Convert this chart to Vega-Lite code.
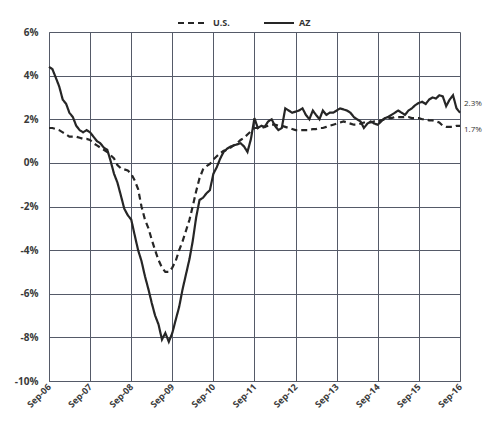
{
  "$schema": "https://vega.github.io/schema/vega-lite/v6.json",
  "width": 411,
  "height": 349,
  "autosize": "none",
  "padding": {"left": 49, "top": 32, "right": 30, "bottom": 56},
  "background": "#ffffff",
  "config": {
    "view": {"stroke": null},
    "font": "Open Sans",
    "axis": {"labelFont": "Open Sans", "labelFontWeight": "bold", "labelColor": "#3a3a3a", "gridColor": "#555a68", "gridOpacity": 1, "gridWidth": 1, "domainColor": "#555a68", "ticks": false}
  },
  "data": {"values": [
    {"date":"2006-09-01","US":1.6,"AZ":4.4},{"date":"2006-10-01","US":1.6,"AZ":4.3},{"date":"2006-11-01","US":1.55,"AZ":3.9},{"date":"2006-12-01","US":1.5,"AZ":3.5},
    {"date":"2007-01-01","US":1.4,"AZ":2.9},{"date":"2007-02-01","US":1.3,"AZ":2.7},{"date":"2007-03-01","US":1.2,"AZ":2.3},{"date":"2007-04-01","US":1.2,"AZ":2.1},
    {"date":"2007-05-01","US":1.2,"AZ":1.7},{"date":"2007-06-01","US":1.15,"AZ":1.5},{"date":"2007-07-01","US":1.1,"AZ":1.4},{"date":"2007-08-01","US":1.1,"AZ":1.5},
    {"date":"2007-09-01","US":1.05,"AZ":1.4},{"date":"2007-10-01","US":0.9,"AZ":1.2},{"date":"2007-11-01","US":0.8,"AZ":1.0},{"date":"2007-12-01","US":0.7,"AZ":0.9},
    {"date":"2008-01-01","US":0.6,"AZ":0.7},{"date":"2008-02-01","US":0.5,"AZ":0.6},{"date":"2008-03-01","US":0.35,"AZ":0.1},{"date":"2008-04-01","US":0.2,"AZ":-0.5},
    {"date":"2008-05-01","US":-0.1,"AZ":-0.9},{"date":"2008-06-01","US":-0.25,"AZ":-1.5},{"date":"2008-07-01","US":-0.3,"AZ":-2.1},{"date":"2008-08-01","US":-0.35,"AZ":-2.4},
    {"date":"2008-09-01","US":-0.5,"AZ":-2.6},{"date":"2008-10-01","US":-0.8,"AZ":-3.3},{"date":"2008-11-01","US":-1.2,"AZ":-4.0},{"date":"2008-12-01","US":-2.0,"AZ":-4.5},
    {"date":"2009-01-01","US":-2.6,"AZ":-5.2},{"date":"2009-02-01","US":-3.0,"AZ":-5.8},{"date":"2009-03-01","US":-3.5,"AZ":-6.4},{"date":"2009-04-01","US":-4.0,"AZ":-7.0},
    {"date":"2009-05-01","US":-4.45,"AZ":-7.4},{"date":"2009-06-01","US":-4.8,"AZ":-8.1},{"date":"2009-07-01","US":-5.0,"AZ":-7.8},{"date":"2009-08-01","US":-5.0,"AZ":-8.2},
    {"date":"2009-09-01","US":-4.8,"AZ":-7.8},{"date":"2009-10-01","US":-4.5,"AZ":-7.2},{"date":"2009-11-01","US":-4.0,"AZ":-6.6},{"date":"2009-12-01","US":-3.6,"AZ":-5.8},
    {"date":"2010-01-01","US":-3.1,"AZ":-5.1},{"date":"2010-02-01","US":-2.6,"AZ":-4.4},{"date":"2010-03-01","US":-2.0,"AZ":-3.6},{"date":"2010-04-01","US":-1.3,"AZ":-2.5},
    {"date":"2010-05-01","US":-0.7,"AZ":-1.7},{"date":"2010-06-01","US":-0.3,"AZ":-1.6},{"date":"2010-07-01","US":-0.15,"AZ":-1.4},{"date":"2010-08-01","US":-0.05,"AZ":-1.25},
    {"date":"2010-09-01","US":0.15,"AZ":-0.5},{"date":"2010-10-01","US":0.3,"AZ":-0.2},{"date":"2010-11-01","US":0.45,"AZ":0.2},{"date":"2010-12-01","US":0.55,"AZ":0.5},
    {"date":"2011-01-01","US":0.6,"AZ":0.65},{"date":"2011-02-01","US":0.7,"AZ":0.75},{"date":"2011-03-01","US":0.8,"AZ":0.8},{"date":"2011-04-01","US":0.9,"AZ":0.85},
    {"date":"2011-05-01","US":1.05,"AZ":0.9},{"date":"2011-06-01","US":1.15,"AZ":0.75},{"date":"2011-07-01","US":1.3,"AZ":0.5},{"date":"2011-08-01","US":1.45,"AZ":1.1},
    {"date":"2011-09-01","US":1.6,"AZ":2.05},{"date":"2011-10-01","US":1.6,"AZ":1.6},{"date":"2011-11-01","US":1.6,"AZ":1.7},{"date":"2011-12-01","US":1.65,"AZ":1.65},
    {"date":"2012-01-01","US":1.7,"AZ":1.9},{"date":"2012-02-01","US":1.75,"AZ":2.0},{"date":"2012-03-01","US":1.75,"AZ":1.7},{"date":"2012-04-01","US":1.7,"AZ":1.5},
    {"date":"2012-05-01","US":1.7,"AZ":1.6},{"date":"2012-06-01","US":1.65,"AZ":2.5},{"date":"2012-07-01","US":1.6,"AZ":2.4},{"date":"2012-08-01","US":1.55,"AZ":2.3},
    {"date":"2012-09-01","US":1.5,"AZ":2.35},{"date":"2012-10-01","US":1.5,"AZ":2.4},{"date":"2012-11-01","US":1.5,"AZ":2.5},{"date":"2012-12-01","US":1.5,"AZ":2.2},
    {"date":"2013-01-01","US":1.5,"AZ":2.0},{"date":"2013-02-01","US":1.55,"AZ":2.4},{"date":"2013-03-01","US":1.55,"AZ":2.2},{"date":"2013-04-01","US":1.6,"AZ":2.0},
    {"date":"2013-05-01","US":1.6,"AZ":2.4},{"date":"2013-06-01","US":1.65,"AZ":2.2},{"date":"2013-07-01","US":1.7,"AZ":2.3},{"date":"2013-08-01","US":1.75,"AZ":2.3},
    {"date":"2013-09-01","US":1.8,"AZ":2.4},{"date":"2013-10-01","US":1.85,"AZ":2.5},{"date":"2013-11-01","US":1.9,"AZ":2.45},{"date":"2013-12-01","US":1.85,"AZ":2.4},
    {"date":"2014-01-01","US":1.8,"AZ":2.3},{"date":"2014-02-01","US":1.75,"AZ":2.1},{"date":"2014-03-01","US":1.75,"AZ":2.0},{"date":"2014-04-01","US":1.8,"AZ":1.9},
    {"date":"2014-05-01","US":1.85,"AZ":1.6},{"date":"2014-06-01","US":1.85,"AZ":1.8},{"date":"2014-07-01","US":1.85,"AZ":1.9},{"date":"2014-08-01","US":1.9,"AZ":1.8},
    {"date":"2014-09-01","US":1.9,"AZ":1.75},{"date":"2014-10-01","US":1.95,"AZ":1.9},{"date":"2014-11-01","US":2.0,"AZ":2.05},{"date":"2014-12-01","US":2.05,"AZ":2.1},
    {"date":"2015-01-01","US":2.05,"AZ":2.2},{"date":"2015-02-01","US":2.1,"AZ":2.3},{"date":"2015-03-01","US":2.1,"AZ":2.4},{"date":"2015-04-01","US":2.1,"AZ":2.3},
    {"date":"2015-05-01","US":2.1,"AZ":2.2},{"date":"2015-06-01","US":2.1,"AZ":2.4},{"date":"2015-07-01","US":2.05,"AZ":2.5},{"date":"2015-08-01","US":2.05,"AZ":2.65},
    {"date":"2015-09-01","US":2.05,"AZ":2.75},{"date":"2015-10-01","US":2.0,"AZ":2.8},{"date":"2015-11-01","US":2.0,"AZ":2.7},{"date":"2015-12-01","US":1.95,"AZ":2.9},
    {"date":"2016-01-01","US":1.95,"AZ":3.0},{"date":"2016-02-01","US":1.9,"AZ":2.95},{"date":"2016-03-01","US":1.85,"AZ":3.1},{"date":"2016-04-01","US":1.7,"AZ":3.05},
    {"date":"2016-05-01","US":1.65,"AZ":2.6},{"date":"2016-06-01","US":1.65,"AZ":2.9},{"date":"2016-07-01","US":1.65,"AZ":3.1},{"date":"2016-08-01","US":1.7,"AZ":2.5},
    {"date":"2016-09-01","US":1.7,"AZ":2.3}
  ]},
  "layer": [
    {
      "transform": [{"fold": ["US", "AZ"], "as": ["series", "value"]}],
      "mark": {"type": "line", "strokeWidth": 2.2, "color": "#262626"},
      "encoding": {
        "x": {
          "field": "date", "type": "temporal",
          "scale": {"type": "utc", "domain": [{"year": 2006, "month": "sep", "date": 1, "utc": true}, {"year": 2016, "month": "sep", "date": 1, "utc": true}], "nice": false},
          "axis": {
            "title": null,
            "values": [
              {"year": 2006, "month": "sep", "date": 1, "utc": true},{"year": 2007, "month": "sep", "date": 1, "utc": true},
              {"year": 2008, "month": "sep", "date": 1, "utc": true},{"year": 2009, "month": "sep", "date": 1, "utc": true},
              {"year": 2010, "month": "sep", "date": 1, "utc": true},{"year": 2011, "month": "sep", "date": 1, "utc": true},
              {"year": 2012, "month": "sep", "date": 1, "utc": true},{"year": 2013, "month": "sep", "date": 1, "utc": true},
              {"year": 2014, "month": "sep", "date": 1, "utc": true},{"year": 2015, "month": "sep", "date": 1, "utc": true},
              {"year": 2016, "month": "sep", "date": 1, "utc": true}
            ],
            "labelExpr": "utcFormat(datum.value, '%b-%y')",
            "labelAngle": -45, "labelAlign": "right", "labelBaseline": "middle",
            "labelFontSize": 9, "labelPadding": 4, "labelOverlap": false, "labelBound": false, "labelFlush": false
          }
        },
        "y": {
          "field": "value", "type": "quantitative",
          "scale": {"domain": [-10, 6], "nice": false},
          "axis": {"title": null, "values": [-10, -8, -6, -4, -2, 0, 2, 4, 6], "labelExpr": "datum.value + '%'", "labelFontSize": 10, "labelPadding": 11}
        },
        "strokeDash": {
          "field": "series", "type": "nominal",
          "scale": {"domain": ["US", "AZ"], "range": [[6, 4], [1, 0]]},
          "legend": {
            "title": null, "orient": "none", "direction": "horizontal", "legendX": 128, "legendY": -25,
            "symbolType": "stroke", "symbolStrokeColor": "#262626", "symbolStrokeWidth": 2, "symbolSize": 900,
            "labelExpr": "datum.label == 'US' ? 'U.S.' : datum.label",
            "labelFontSize": 9, "labelFontWeight": "bold", "labelColor": "#333333", "labelFont": "Open Sans", "columnPadding": 30
          }
        }
      }
    },
    {
      "data": {"values": [{"date": "2016-09-01", "value": 2.3, "label": "2.3%"}]},
      "mark": {"type": "text", "align": "left", "dx": 4, "dy": -9, "fontSize": 8, "color": "#333333", "font": "Open Sans"},
      "encoding": {
        "x": {"field": "date", "type": "temporal"},
        "y": {"field": "value", "type": "quantitative"},
        "text": {"field": "label", "type": "nominal"}
      }
    },
    {
      "data": {"values": [{"date": "2016-09-01", "value": 1.7, "label": "1.7%"}]},
      "mark": {"type": "text", "align": "left", "dx": 4, "dy": 4, "fontSize": 8, "color": "#333333", "font": "Open Sans"},
      "encoding": {
        "x": {"field": "date", "type": "temporal"},
        "y": {"field": "value", "type": "quantitative"},
        "text": {"field": "label", "type": "nominal"}
      }
    }
  ]
}
